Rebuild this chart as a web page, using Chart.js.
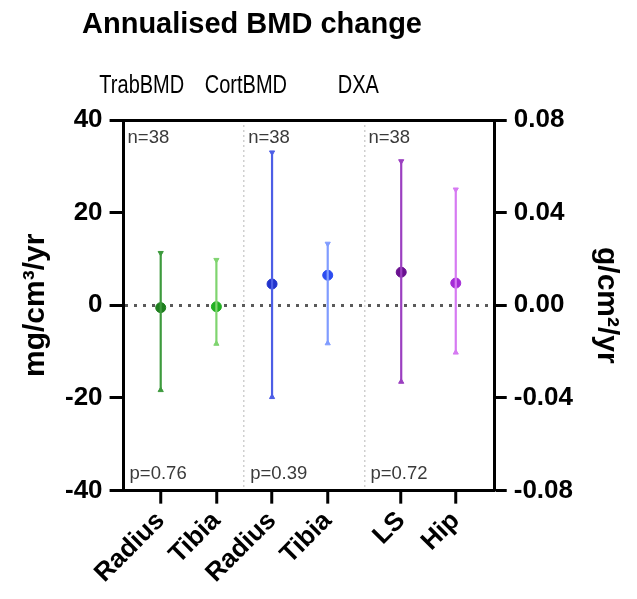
<!DOCTYPE html>
<html>
<head>
<meta charset="utf-8">
<script src="https://cdn.jsdelivr.net/npm/chart.js@4"></script>
<style>
  html, body { margin: 0; padding: 0; background: #fff; }
  #wrap { width: 637px; height: 599px; position: relative; }
</style>
</head>
<body>
<div id="wrap"><canvas id="chartCanvas"></canvas></div>
<script>
// ------- Data -------
const categories = ["Radius", "Tibia", "Radius", "Tibia", "LS", "Hip"];
const xPositions = [1, 2, 3, 4, 5.32, 6.3];      // category slots on the x axis
const separators = [2.5, 4.66];                   // dotted group dividers
const groupNames = ["TrabBMD", "CortBMD", "DXA"];
const groupNameX = [0.66, 2.53, 4.55];
const nLabels = ["n=38", "n=38", "n=38"];
const pLabels = ["p=0.76", "p=0.39", "p=0.72"];

// first four on mg/cm3/yr, last two (DXA) on g/cm2/yr
const means = [-0.5, -0.3, 4.6, 6.5, 0.0143, 0.0096];
const lows  = [-18.3, -8.3, -19.8, -8.2, -0.0330, -0.0204];
const highs = [11.3, 9.8, 33.0, 13.3, 0.0622, 0.0500];
const axisOf = ["y", "y", "y", "y", "y2", "y2"];

const X_MIN = 0.333, X_MAX = 7.0;

// ------- Styles -------
const lineColors  = ["#3d9a3d", "#7fd46f", "#4d5ee6", "#809cff", "#9b3fc0", "#d67af2"];
const pointColors = ["#1f7f1f", "#22b022", "#2233cc", "#2c4cf0", "#6a1190", "#a42dd6"];
const FONT = '"Liberation Sans", Arial, sans-serif';

// ------- Datasets -------
const datasets = [];
categories.forEach((c, i) => {
  datasets.push({
    type: "line",
    data: [{ x: xPositions[i], y: lows[i] }, { x: xPositions[i], y: highs[i] }],
    yAxisID: axisOf[i],
    borderColor: lineColors[i],
    borderWidth: 2.2,
    pointStyle: "triangle",
    pointRotation: [0, 180],
    pointRadius: 3,
    pointBackgroundColor: lineColors[i],
    pointBorderColor: lineColors[i],
    pointBorderWidth: 1,
    fill: false,
  });
  datasets.push({
    type: "scatter",
    data: [{ x: xPositions[i], y: means[i] }],
    yAxisID: axisOf[i],
    pointStyle: "circle",
    pointRadius: 5,
    pointBackgroundColor: pointColors[i],
    pointBorderColor: pointColors[i],
  });
});

// ------- Text annotations -------
const annotations = {
  id: "annotations",
  afterDraw(chart) {
    const { ctx, chartArea } = chart;
    const xs = chart.scales.x;
    ctx.save();
    ctx.fillStyle = "#000";
    ctx.textBaseline = "alphabetic";

    ctx.font = "bold 29px " + FONT;
    ctx.textAlign = "center";
    ctx.fillText("Annualised BMD change", 252, 33);

    // group names are set in a condensed face
    ctx.font = "25px " + FONT;
    groupNames.forEach((g, i) => {
      ctx.save();
      ctx.translate(xs.getPixelForValue(groupNameX[i]), 93);
      ctx.scale(0.8, 1);
      ctx.fillText(g, 0, 0);
      ctx.restore();
    });

    const bounds = [X_MIN, ...separators];
    ctx.font = "18.5px " + FONT;
    ctx.fillStyle = "#3a3a3a";
    ctx.textAlign = "left";
    bounds.forEach((b, i) => {
      const px = xs.getPixelForValue(b);
      ctx.fillText(nLabels[i], px + 4, chartArea.top + 23);
      ctx.fillText(pLabels[i], px + 6, chartArea.bottom - 12);
    });
    ctx.restore();
  },
};

const isSep = (v) => separators.includes(v);

// ------- Chart -------
new Chart(document.getElementById("chartCanvas").getContext("2d"), {
  type: "scatter",
  data: { datasets },
  plugins: [annotations],
  options: {
    responsive: true,
    maintainAspectRatio: false,
    animation: false,
    layout: { padding: { top: 120, left: 14, right: 5, bottom: 8 } },
    plugins: { legend: { display: false }, tooltip: { enabled: false }, title: { display: false } },
    scales: {
      x: {
        type: "linear",
        position: "bottom",
        min: X_MIN,
        max: X_MAX,
        afterBuildTicks: (axis) => {
          axis.ticks = [...xPositions, ...separators].sort((a, b) => a - b).map((v) => ({ value: v }));
        },
        ticks: {
          autoSkip: false,
          minRotation: 45,
          maxRotation: 45,
          padding: 2,
          color: "#000",
          font: { family: FONT, size: 26, weight: "bold" },
          callback: (v) => {
            const i = xPositions.indexOf(v);
            return i >= 0 ? categories[i] : "";
          },
        },
        grid: {
          color: (c) => (c.tick && isSep(c.tick.value) ? "#cfcfcf" : "rgba(0,0,0,0)"),
          lineWidth: 1.5,
          tickColor: (c) => (c.tick && isSep(c.tick.value) ? "rgba(0,0,0,0)" : "#000"),
          tickWidth: 3,
          tickLength: 13,
        },
        border: { color: "#000", width: 3, dash: [2, 3] },
      },
      xTop: {
        type: "linear",
        position: "top",
        min: X_MIN,
        max: X_MAX,
        ticks: { display: false },
        grid: { display: false, drawTicks: false },
        border: { display: true, color: "#000", width: 3 },
      },
      y: {
        position: "left",
        min: -40,
        max: 40,
        ticks: {
          stepSize: 20,
          padding: 7,
          color: "#000",
          font: { family: FONT, size: 26, weight: "bold" },
        },
        title: {
          display: true,
          text: "mg/cm³/yr",
          color: "#000",
          font: { family: FONT, size: 30, weight: "bold" },
          padding: { top: 4, bottom: 4 },
        },
        grid: {
          color: (c) => (c.tick && c.tick.value === 0 ? "#5a5a5a" : "rgba(0,0,0,0)"),
          lineWidth: 3,
          tickColor: "#000",
          tickWidth: 3,
          tickLength: 14,
        },
        border: { color: "#000", width: 3, dash: [3, 6] },
      },
      y2: {
        position: "right",
        min: -0.08,
        max: 0.08,
        ticks: {
          stepSize: 0.04,
          padding: 7,
          color: "#000",
          font: { family: FONT, size: 26, weight: "bold" },
          callback: (v) => Number(v).toFixed(2),
        },
        title: {
          display: true,
          text: "g/cm²/yr",
          color: "#000",
          font: { family: FONT, size: 30, weight: "bold" },
          padding: { top: 8, bottom: 8 },
        },
        grid: {
          drawOnChartArea: false,
          tickColor: "#000",
          tickWidth: 3,
          tickLength: 12,
        },
        border: { color: "#000", width: 3 },
      },
    },
  },
});
</script>
</body>
</html>
